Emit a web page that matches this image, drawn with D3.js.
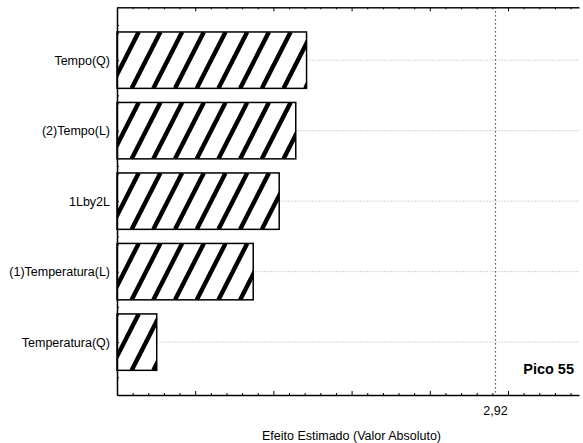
<!DOCTYPE html>
<html>
<head>
<meta charset="utf-8">
<script src="https://cdn.jsdelivr.net/npm/d3@7"></script>
<style>
  html, body { margin: 0; background: #fff; overflow: hidden; }
  svg { display: block; }
  text { font-family: "Liberation Sans", Arial, sans-serif; }
</style>
</head>
<body>
<div id="chart"></div>
<script>
// efeitos (pareto)
const effectNames = ['Tempo(Q)', '(2)Tempo(L)', '1Lby2L', '(1)Temperatura(L)', 'Temperatura(Q)'];
const effectValues = [1.712, 1.643, 1.537, 1.371, 0.754];
const limitValue = 2.92;
const noteText = 'Pico 55';
const xTitle = 'Efeito Estimado (Valor Absoluto)';

const width = 583;
const height = 443;
const plotL = 117, plotR = 590, plotT = 7.3, plotB = 395;

const svg = d3.select('#chart')
              .append('svg')
              .attr('width', width)
              .attr('height', height);

const x = d3.scaleLinear().domain([0.5, 0.5 + (plotR - plotL) / 156.4]).range([plotL, plotR]);
const y = d3.scaleLinear().domain([0.25, 5.75]).range([plotT, plotB]);
const barH = (y(1) - y(0)) * 0.8;

const defs = svg.append('defs');
const root = svg.append('g');

// linhas de grade
root.append('g')
   .selectAll('line')
   .data(effectNames)
   .enter()
   .append('line')
   .attr('x1', plotL)
   .attr('x2', plotR)
   .attr('y1', (d, i) => y(i + 1))
   .attr('y2', (d, i) => y(i + 1))
   .attr('stroke', '#d4d4d4')
   .attr('stroke-dasharray', '2,1')
   .attr('stroke-width', 1);

// limite p
root.append('line')
   .attr('x1', x(limitValue))
   .attr('x2', x(limitValue))
   .attr('y1', plotT)
   .attr('y2', plotB)
   .attr('stroke', '#333')
   .attr('stroke-width', 1.2)
   .attr('stroke-dasharray', '1.3,2.7');

// barras com hachura
const hatchStep = 21.7;
const hatchRun = barH * Math.tan(27 * Math.PI / 180);

defs.selectAll('clipPath.bar')
    .data(effectValues)
    .enter()
    .append('clipPath')
    .attr('class', 'bar')
    .attr('id', (d, i) => 'bar' + i)
    .append('rect')
    .attr('x', plotL)
    .attr('y', (d, i) => y(i + 1) - barH / 2)
    .attr('width', (d) => x(d) - plotL)
    .attr('height', barH);

const bars = root.append('g')
                 .selectAll('g')
                 .data(effectValues)
                 .enter()
                 .append('g');

bars.append('rect')
    .attr('x', plotL)
    .attr('y', (d, i) => y(i + 1) - barH / 2)
    .attr('width', (d) => x(d) - plotL)
    .attr('height', barH)
    .attr('fill', '#fff');

bars.append('g')
    .attr('clip-path', (d, i) => 'url(#bar' + i + ')')
    .each(function(d, i) {
      const y0 = y(i + 1) - barH / 2;
      const n = Math.ceil((x(d) - plotL + hatchRun) / hatchStep) + 1;
      d3.select(this)
        .selectAll('line')
        .data(d3.range(n))
        .enter()
        .append('line')
        .attr('x1', (k) => plotL + k * hatchStep - hatchRun)
        .attr('y1', y0 + barH)
        .attr('x2', (k) => plotL + k * hatchStep)
        .attr('y2', y0)
        .attr('stroke', '#000')
        .attr('stroke-width', 4.4);
    });

bars.append('rect')
    .attr('x', plotL)
    .attr('y', (d, i) => y(i + 1) - barH / 2)
    .attr('width', (d) => x(d) - plotL)
    .attr('height', barH)
    .attr('fill', 'none')
    .attr('stroke', '#000')
    .attr('stroke-width', 1.5);

// eixos
const majorTicks = d3.range(0.5, 3.49, 0.5);
const minorTicks = d3.range(0.5, 3.49, 0.1).filter((v) => Math.abs(v * 2 - Math.round(v * 2)) > 1e-6);

const axisB = root.append('g').attr('transform', 'translate(0,' + plotB + ')');
axisB.call(d3.axisBottom(x).tickValues(majorTicks).tickSizeInner(-4).tickSizeOuter(0).tickFormat(''));
axisB.append('g').call(d3.axisBottom(x).tickValues(minorTicks).tickSizeInner(-2).tickSizeOuter(0).tickFormat(''));

const axisT = root.append('g').attr('transform', 'translate(0,' + plotT + ')');
axisT.call(d3.axisTop(x).tickValues(majorTicks).tickSizeInner(-4).tickSizeOuter(0).tickFormat(''));
axisT.append('g').call(d3.axisTop(x).tickValues(minorTicks).tickSizeInner(-2).tickSizeOuter(0).tickFormat(''));

const axisL = root.append('g').attr('transform', 'translate(' + plotL + ',0)');
axisL.call(d3.axisLeft(y).tickValues(d3.range(0.5, 5.6, 0.5)).tickSizeInner(-2).tickSizeOuter(0).tickFormat(''));

root.selectAll('.domain').attr('stroke', '#000');
axisB.select('.domain').attr('stroke-width', 1.5);
axisL.select('.domain').attr('stroke-width', 1.5);
root.selectAll('.tick line').attr('stroke', '#000');

// rótulos
root.append('g')
   .selectAll('text')
   .data(effectNames)
   .enter()
   .append('text')
   .attr('x', 110)
   .attr('y', (d, i) => y(i + 1))
   .attr('dy', '0.35em')
   .attr('text-anchor', 'end')
   .style('font-size', '12.5px')
   .text((d) => d);

root.append('text')
   .attr('x', x(limitValue))
   .attr('y', 414.5)
   .attr('text-anchor', 'middle')
   .style('font-size', '12.5px')
   .text(String(limitValue).replace('.', ','));

root.append('text')
   .attr('x', 351.5)
   .attr('y', 439.5)
   .attr('text-anchor', 'middle')
   .style('font-size', '12.5px')
   .text(xTitle);

root.append('text')
   .attr('x', 574)
   .attr('y', 374)
   .attr('text-anchor', 'end')
   .style('font-size', '14.5px')
   .style('font-weight', 'bold')
   .text(noteText);

// borda direita limpa
svg.append('rect')
   .attr('x', 579.5)
   .attr('y', 0)
   .attr('width', width - 579.5)
   .attr('height', height)
   .attr('fill', '#fff');
</script>
</body>
</html>
